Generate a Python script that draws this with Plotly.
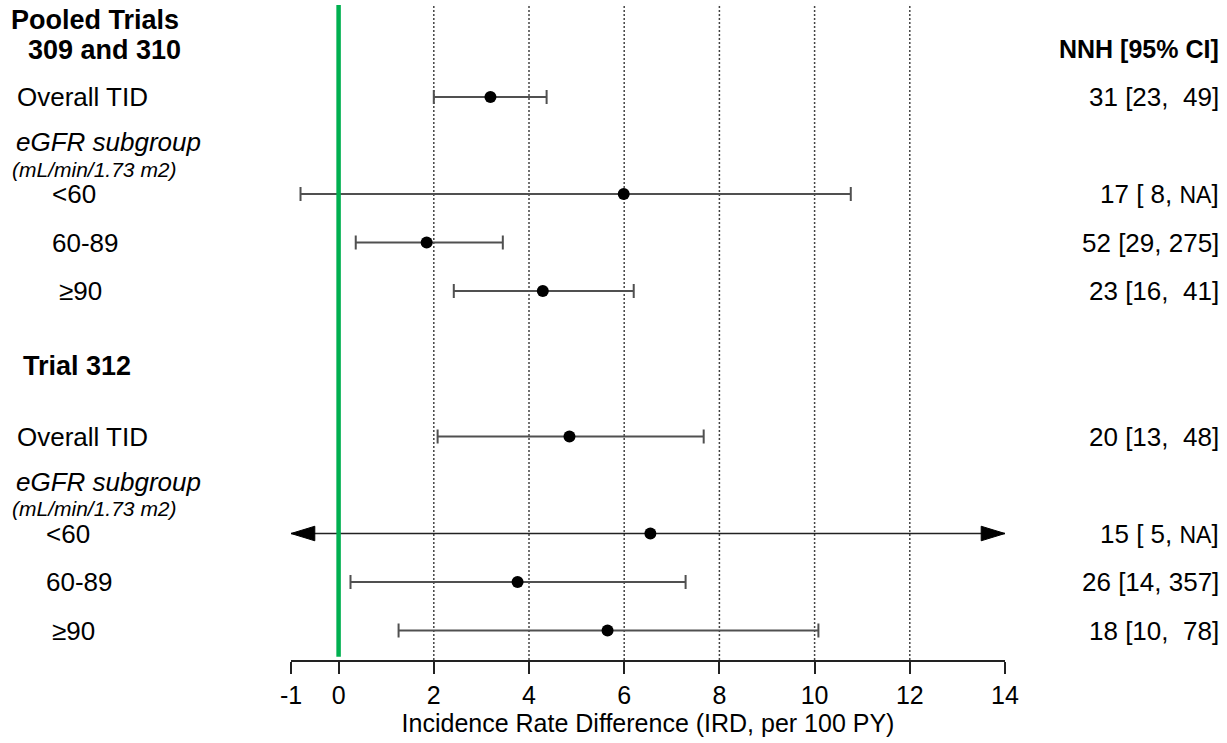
import plotly.graph_objects as go

# ---------------- data ----------------
subgroups = ["Overall TID", "<60", "60-89", "≥90"]

# Pooled Trials 309 and 310
pooled_est = [3.19, 5.99, 1.85, 4.29]
pooled_lo = [2.00, -0.80, 0.36, 2.42]
pooled_hi = [4.37, 10.76, 3.45, 6.20]
pooled_nnh = ["31 [23,  49]", "17 [ 8, NA]", "52 [29, 275]", "23 [16,  41]"]

# Trial 312
t312_est = [4.85, 6.55, 3.76, 5.65]
t312_lo = [2.08, -1.0, 0.25, 1.26]
t312_hi = [7.67, 14.0, 7.29, 10.08]
t312_truncated = [False, True, False, False]
t312_nnh = ["20 [13,  48]", "15 [ 5, NA]", "26 [14, 357]", "18 [10,  78]"]

# row slots (top to bottom)
pooled_rows = [0, 2, 3, 4]
t312_rows = [7, 9, 10, 11]

x_ticks = [-1, 0, 2, 4, 6, 8, 10, 12, 14]
grid_vals = [2, 4, 6, 8, 10, 12]
x_range = [-1, 14]

# ---------------- style ----------------
FONT = "Liberation Sans, Arial, sans-serif"
BAR_COLOR = "#505050"
GREEN = "#00B050"
LBL = 26

fig = go.Figure()

def add_group(est, lo, hi, rows, truncated=None):
    if truncated is None:
        truncated = [False] * len(est)
    xs, ys, plus, minus = [], [], [], []
    for e, l, h, r, t in zip(est, lo, hi, rows, truncated):
        if t:
            fig.add_trace(go.Scatter(x=[l, h], y=[r, r], mode="lines",
                                     line=dict(color="#222222", width=1.5),
                                     hoverinfo="skip", showlegend=False,
                                     cliponaxis=False))
            head_len = 0.5
            head_h = 0.15
            for tip, sgn in ((l, 1), (h, -1)):
                fig.add_trace(go.Scatter(
                    x=[tip, tip + sgn * head_len, tip + sgn * head_len, tip],
                    y=[r, r - head_h, r + head_h, r],
                    mode="lines", fill="toself", fillcolor="black",
                    line=dict(color="black", width=1),
                    hoverinfo="skip", showlegend=False, cliponaxis=False))
            fig.add_trace(go.Scatter(x=[e], y=[r], mode="markers",
                                     marker=dict(color="black", size=12),
                                     showlegend=False))
        else:
            xs.append(e); ys.append(r)
            plus.append(h - e); minus.append(e - l)
    fig.add_trace(go.Scatter(
        x=xs, y=ys, mode="markers",
        marker=dict(color="black", size=12),
        error_x=dict(type="data", symmetric=False, array=plus, arrayminus=minus,
                     color=BAR_COLOR, thickness=2, width=7),
        showlegend=False, cliponaxis=False))

add_group(pooled_est, pooled_lo, pooled_hi, pooled_rows)
add_group(t312_est, t312_lo, t312_hi, t312_rows, t312_truncated)

shapes = []
for g in grid_vals:
    shapes.append(dict(type="line", xref="x", yref="paper", x0=g, x1=g, y0=0, y1=1,
                       line=dict(color="#444444", width=1.5, dash="2px,2px"), layer="below"))
shapes.append(dict(type="line", xref="x", yref="paper", x0=0, x1=0, y0=0.005, y1=1,
                   line=dict(color=GREEN, width=4.5)))

# ---------------- text annotations ----------------
ann = []
def px_to_paper(px):
    return (px - 291) / 714.0

def add_text(text, px, y, size=LBL, bold=False, italic=False, anchor="left"):
    t = text.replace("NA", "<span style='font-size:23px'>NA</span>")
    if bold:
        t = "<b>" + t + "</b>"
    if italic:
        t = "<i>" + t + "</i>"
    ann.append(dict(text=t, xref="paper", yref="y", x=px_to_paper(px), y=y,
                    xanchor=anchor, yanchor="middle", showarrow=False,
                    font=dict(family=FONT, size=size, color="black")))

# headers
add_text("Pooled Trials", 9, pooled_rows[0] - 1.59, size=27, bold=True)
add_text("309 and 310", 26, pooled_rows[0] - 0.97, size=27, bold=True)
add_text("NNH [95% CI]", 1221, pooled_rows[0] - 1.0, size=25, bold=True, anchor="right")
add_text("Trial 312", 21, t312_rows[0] - 1.45, size=27, bold=True)

indent_pooled = [15, 50, 50, 57]
indent_312 = [15, 44, 44, 50]
for rows, ind, nnh in ((pooled_rows, indent_pooled, pooled_nnh), (t312_rows, indent_312, t312_nnh)):
    for name, r, px, n in zip(subgroups, rows, ind, nnh):
        add_text(name, px, r)
        add_text(n, 1221, r, anchor="right")
    add_text("eGFR subgroup", 14, rows[1] - 1.07, italic=True)
    add_text("(mL/min/1.73 m2)", 10, rows[1] - 0.515, size=21, italic=True)

fig.update_layout(
    width=1227, height=743,
    margin=dict(l=291, r=222, t=5, b=83),
    paper_bgcolor="white", plot_bgcolor="white",
    shapes=shapes, annotations=ann, showlegend=False,
    font=dict(family=FONT, color="black"),
    xaxis=dict(range=x_range, tickvals=x_ticks, ticktext=[str(v) for v in x_ticks],
               showgrid=False, zeroline=False, showline=True, linecolor="#222222",
               linewidth=1.5, ticks="outside", ticklen=12, tickwidth=1.5,
               tickcolor="#222222", tickfont=dict(family=FONT, size=25, color="black"),
               title=dict(text="Incidence Rate Difference (IRD, per 100 PY)",
                          font=dict(family=FONT, size=25, color="black"), standoff=4)),
    yaxis=dict(range=[11.608, -1.897], visible=False, showgrid=False, zeroline=False),
)

fig.write_html("out.html")
